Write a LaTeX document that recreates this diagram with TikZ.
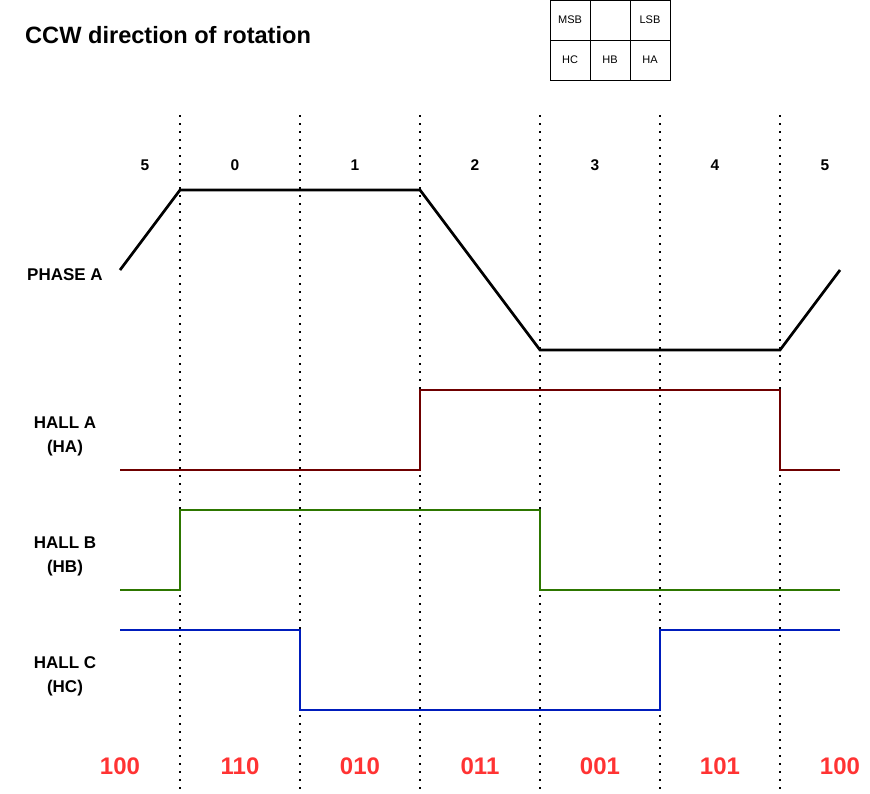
\documentclass[tikz,border=0pt]{standalone}
\usepackage{fontspec}
\setmainfont{Liberation Sans}
\definecolor{codered}{HTML}{FF3333}
\definecolor{hallared}{HTML}{6F0000}
\definecolor{hallbgreen}{HTML}{2D7600}
\definecolor{hallcblue}{HTML}{001DBC}
\begin{document}
\begin{tikzpicture}[x=1pt,y=-1pt,
  title/.style={font=\bfseries\fontsize{23.6}{28}\selectfont, inner sep=0, anchor=west},
  lbl/.style={font=\bfseries\fontsize{17}{24}\selectfont, align=center, inner sep=0},
  seg/.style={font=\bfseries\fontsize{15.5}{18}\selectfont, inner sep=0},
  code/.style={font=\bfseries\fontsize{24}{28}\selectfont, text=codered, inner sep=0},
  cell/.style={draw, minimum width=40pt, minimum height=40pt, inner sep=0, font=\fontsize{11}{13}\selectfont, line width=0.9pt},
  guide/.style={line width=1.5pt, dash pattern=on 1.5pt off 6.5pt},
  wave/.style={line width=2.7pt, line join=miter}]
\useasboundingbox (0,0) rectangle (870,793);

% title
\node[title] (ttl) at (25,35) {CCW direction of rotation};

% bit order table
\node[cell] (cmsb) at (570,20) {MSB};
\node[cell] (cmid) at (610,20) {};
\node[cell] (clsb) at (650,20) {LSB};
\node[cell] (chc) at (570,60) {HC};
\node[cell] (chb) at (610,60) {HB};
\node[cell] (cha) at (650,60) {HA};

% guide lines
\foreach \i/\x in {1/180,2/300,3/420,4/540,5/660,6/780}{
  \coordinate (gt\i) at (\x,115);
  \coordinate (gb\i) at (\x,793);
  \draw[guide] (gt\i) -- (gb\i);
}

% segment numbers
\node[seg] (s5a) at (145,165) {5};
\node[seg] (s0) at (235,165) {0};
\node[seg] (s1) at (355,165) {1};
\node[seg] (s2) at (475,165) {2};
\node[seg] (s3) at (595,165) {3};
\node[seg] (s4) at (715,165) {4};
\node[seg] (s5b) at (825,165) {5};

% row labels
\node[lbl] (lpa) at (65,275) {PHASE A};
\node[lbl] (lha) at (65,436) {HALL A\\(HA)};
\node[lbl] (lhb) at (65,556) {HALL B\\(HB)};
\node[lbl] (lhc) at (65,676) {HALL C\\(HC)};

% phase A
\coordinate (pa0) at (120,270);
\coordinate (pa1) at (180,190);
\coordinate (pa2) at (420,190);
\coordinate (pa3) at (540,350);
\coordinate (pa4) at (780,350);
\coordinate (pa5) at (840,270);
\draw[wave, black] (pa0) -- (pa1) -- (pa2) -- (pa3) -- (pa4) -- (pa5);

% hall A
\coordinate (ha0) at (120,470);
\coordinate (ha1) at (420,470);
\coordinate (ha2) at (420,390);
\coordinate (ha3) at (780,390);
\coordinate (ha4) at (780,470);
\coordinate (ha5) at (840,470);
\draw[wave, hallared] (ha0) -- (ha1) -- (ha2) -- (ha3) -- (ha4) -- (ha5);

% hall B
\coordinate (hb0) at (120,590);
\coordinate (hb1) at (180,590);
\coordinate (hb2) at (180,510);
\coordinate (hb3) at (540,510);
\coordinate (hb4) at (540,590);
\coordinate (hb5) at (840,590);
\draw[wave, hallbgreen] (hb0) -- (hb1) -- (hb2) -- (hb3) -- (hb4) -- (hb5);

% hall C
\coordinate (hc0) at (120,630);
\coordinate (hc1) at (300,630);
\coordinate (hc2) at (300,710);
\coordinate (hc3) at (660,710);
\coordinate (hc4) at (660,630);
\coordinate (hc5) at (840,630);
\draw[wave, hallcblue] (hc0) -- (hc1) -- (hc2) -- (hc3) -- (hc4) -- (hc5);

% codes
\node[code] (c1) at (120,766) {100};
\node[code] (c2) at (240,766) {110};
\node[code] (c3) at (360,766) {010};
\node[code] (c4) at (480,766) {011};
\node[code] (c5) at (600,766) {001};
\node[code] (c6) at (720,766) {101};
\node[code] (c7) at (840,766) {100};
\end{tikzpicture}
\end{document}
